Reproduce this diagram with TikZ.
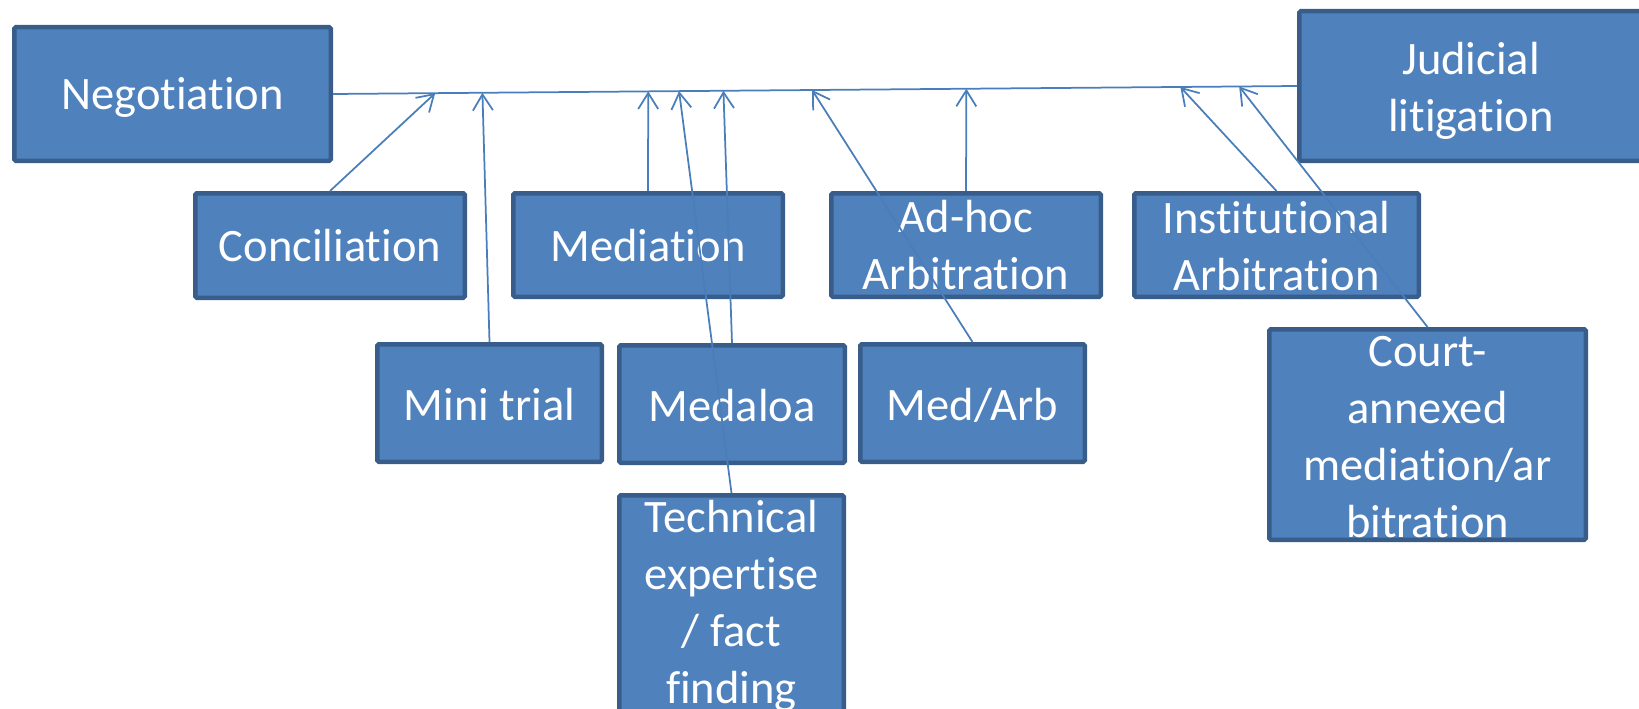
\documentclass[tikz,border=0pt]{standalone}
\usepackage{fontspec}
\setmainfont[Ligatures=NoCommon]{Carlito}
\usetikzlibrary{arrows.meta,calc}
\definecolor{boxfill}{HTML}{4F81BD}
\definecolor{boxline}{HTML}{385D8A}
\definecolor{connline}{HTML}{4A7EBB}
\begin{document}
\begin{tikzpicture}[x=1pt,y=-1pt,
  box/.style={draw=boxline, fill=boxfill, line width=4.5pt, rounded corners=1.5pt, inner sep=0pt},
  txt/.style={text=white, font=\fontsize{46.5}{57}\selectfont, align=center, inner sep=0pt},
  conn/.style={draw=connline, line width=1.75pt, -{Straight Barb[length=16pt,width=20pt]}},
  mainline/.style={draw=connline, line width=1.75pt}]
\useasboundingbox (0,0) rectangle (1639,709);
% boxes
\node[box, minimum width=316.5pt, minimum height=133.5pt] (neg) at (172.5,94) {};
\node[box, minimum width=343.5pt, minimum height=149.5pt] (jud) at (1471,86) {};
\node[box, minimum width=269.5pt, minimum height=104.5pt] (conc) at (330,245.5) {};
\node[box, minimum width=269.5pt, minimum height=103.5pt] (med) at (648,245) {};
\node[box, minimum width=269.5pt, minimum height=103.5pt] (adhoc) at (966,245) {};
\node[box, minimum width=284.5pt, minimum height=103.5pt] (inst) at (1276.5,245) {};
\node[box, minimum width=224.5pt, minimum height=117.5pt] (mini) at (489.5,403) {};
\node[box, minimum width=225.5pt, minimum height=117.5pt] (medaloa) at (732,404) {};
\node[box, minimum width=224.5pt, minimum height=117.5pt] (medarb) at (972.5,403) {};
\node[box, minimum width=224.5pt, minimum height=232.5pt] (tech) at (731.5,611.5) {};
\node[box, minimum width=316.5pt, minimum height=210.5pt] (court) at (1427.5,434.5) {};
% texts
\node[txt, yshift=-4pt] (negT) at (neg) {Negotiation};
\node[txt, yshift=-5pt] (judT) at (jud) {Judicial\\litigation};
\node[txt] (concT) at (conc) {Conciliation};
\node[txt, yshift=-1pt] (medT) at (med) {Mediation};
\node[txt] (adhocT) at (adhoc) {Ad-hoc\\Arbitration};
\node[txt, yshift=-1pt] (instT) at (inst) {Institutional\\Arbitration};
\node[txt, yshift=-2pt] (miniT) at (mini) {Mini trial};
\node[txt, yshift=-1.5pt] (medaloaT) at (medaloa) {Medaloa};
\node[txt, yshift=-2pt] (medarbT) at (medarb) {Med/Arb};
\node[txt] (techT) at (731.5,606) {Technical\\expertise\\/ fact\\finding};
\node[txt, yshift=-2.5pt] (courtT) at (court) {Court-\\annexed\\mediation/ar\\bitration};
% main line
\draw[mainline] (neg.east) -- (jud.west);
\coordinate (tConc) at ($(neg.east)!0.106!(jud.west)$);
\coordinate (tMini) at ($(neg.east)!0.155!(jud.west)$);
\coordinate (tMed) at ($(neg.east)!0.327!(jud.west)$);
\coordinate (tTech) at ($(neg.east)!0.359!(jud.west)$);
\coordinate (tMedaloa) at ($(neg.east)!0.405!(jud.west)$);
\coordinate (tMedarb) at ($(neg.east)!0.497!(jud.west)$);
\coordinate (tAdhoc) at ($(neg.east)!0.657!(jud.west)$);
\coordinate (tInst) at ($(neg.east)!0.879!(jud.west)$);
\coordinate (tCourt) at ($(neg.east)!0.940!(jud.west)$);
% connectors
\draw[conn] (conc.north) -- (tConc);
\draw[conn] (mini.north) -- (tMini);
\draw[conn] (med.north) -- (tMed);
\draw[conn] (tech.north) -- (tTech);
\draw[conn] (medaloa.north) -- (tMedaloa);
\draw[conn] (medarb.north) -- (tMedarb);
\draw[conn] (adhoc.north) -- (tAdhoc);
\draw[conn] (inst.north) -- (tInst);
\draw[conn] (court.north) -- (tCourt);
\end{tikzpicture}
\end{document}
